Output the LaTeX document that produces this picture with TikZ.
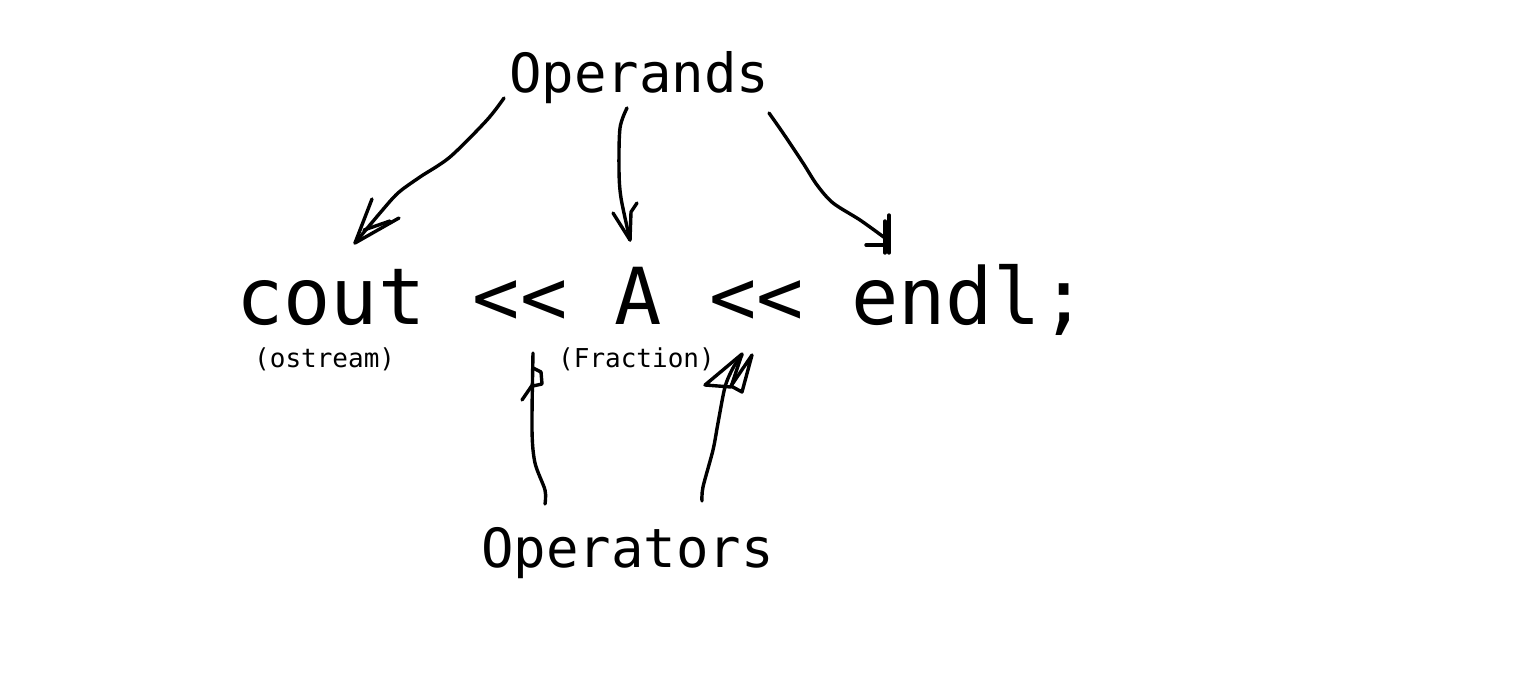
\documentclass[tikz,border=0pt]{standalone}
\usepackage{fontspec}
\newfontfamily\codefont{DejaVu Sans Mono}
\begin{document}
\begin{tikzpicture}[x=1pt,y=-1pt,
  ink/.style={draw=black,line width=3.4pt,line cap=round,line join=round},
  code/.style={font=\codefont\fontsize{78.6}{80}\selectfont,anchor=base west,inner sep=0pt},
  label/.style={font=\codefont\fontsize{54}{56}\selectfont,anchor=base west,inner sep=0pt},
  note/.style={font=\codefont\fontsize{26}{28}\selectfont,anchor=base west,inner sep=0pt}]
\useasboundingbox[fill=white] (0,0) rectangle (1540,676);

% text
\node[code]  (line)      at (236,325) {cout << A << endl;};
\node[label] (operands)  at (509,93)  {Operands};
\node[label] (operators) at (481,567) {Operators};
\node[note]  (ostream)   at (254,367) {(ostream)};
\node[note]  (fraction)  at (558,367) {(Fraction)};

% arrow ends
\coordinate (s1) at (504,98);   \coordinate (t1) at (355,243);
\coordinate (s2) at (627,108);  \coordinate (t2) at (630,240);
\coordinate (s3) at (769,113);  \coordinate (t3) at (885,238);
\coordinate (s4) at (545,504);  \coordinate (t4) at (533,353);
\coordinate (s5) at (702,501);  \coordinate (t5) at (742,355);

% Operands -> cout
\draw[ink] plot[smooth] coordinates {(s1) (487,120) (450,157) (420,177) (398,193) (380,213) (t1)};
\draw[ink] (372,199) -- (t1) -- (399,218);
\draw[ink] (364,230) -- (390,221);
% Operands -> A
\draw[ink] plot[smooth] coordinates {(s2) (620,128) (619,170) (621,198) (t2)};
\draw[ink] (613,213) -- (t2);
\draw[ink] (t2) -- (631,212) -- (637,203);
% Operands -> endl
\draw[ink] plot[smooth] coordinates {(s3) (783,133) (803,163) (817,185) (833,203) (860,220) (t3)};
\draw[ink] (885,221) -- (885,253);
\draw[ink] (889,215) -- (889,253);
\draw[ink] (866,245) -- (889,245);
% Operators -> first <<
\draw[ink] plot[smooth] coordinates {(s4) (545,490) (535,463) (532,430) (t4)};
\draw[ink] (522,400) -- (533,384);
\draw[ink] (533,368) -- (541,372) -- (542,384) -- (533,386);
% Operators -> second <<
\draw[ink] plot[smooth] coordinates {(s5) (703,487) (713,450) (718,423) (725,387) (733,368) (t5)};
\draw[ink] (705,385) -- (742,354) -- (731,387) -- cycle;
\draw[ink] (731,386) -- (752,355) -- (742,392) -- (731,386);
\end{tikzpicture}
\end{document}
